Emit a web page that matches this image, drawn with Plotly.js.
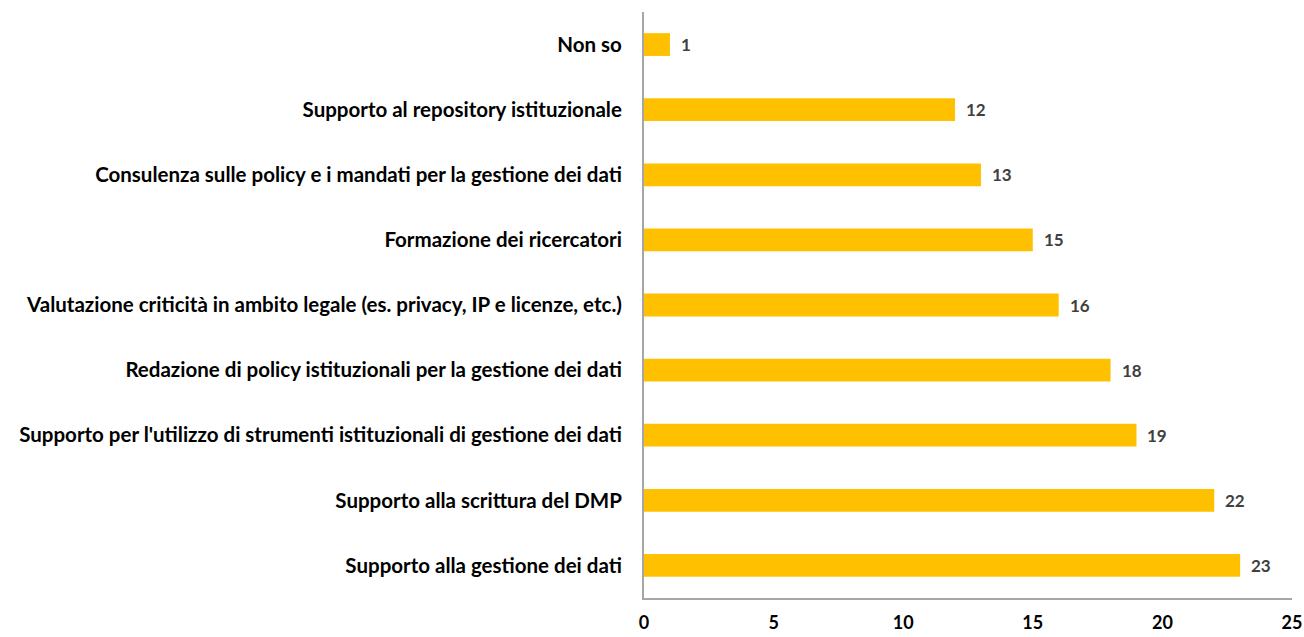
<!DOCTYPE html>
<html><head><meta charset="utf-8">
<script src="https://cdn.plot.ly/plotly-3.0.1.min.js"></script>
<style>html,body{margin:0;padding:0;background:#fff}#chart{width:1304px;height:637px}</style>
</head><body><div id="chart"></div>
<script>
const categories = [
  "Non so",
  "Supporto al repository istituzionale",
  "Consulenza sulle policy e i mandati per la gestione dei dati",
  "Formazione dei ricercatori",
  "Valutazione criticità in ambito legale (es. privacy, IP e licenze, etc.)",
  "Redazione di policy istituzionali per la gestione dei dati",
  "Supporto per l'utilizzo di strumenti istituzionali di gestione dei dati",
  "Supporto alla scrittura del DMP",
  "Supporto alla gestione dei dati"
];
const values = [1, 12, 13, 15, 16, 18, 19, 22, 23];
const xTicks = [0, 5, 10, 15, 20, 25];

const FONT = "Lato, 'Open Sans', sans-serif";
const trace = {
  type: 'bar', orientation: 'h',
  x: values, y: categories,
  marker: {color: '#FFC000'},
  hoverinfo: 'none'
};
const annotations = values.map((v, i) => ({
  x: v, y: categories[i], xref: 'x', yref: 'y',
  text: '<b>' + v + '</b>', showarrow: false,
  xanchor: 'left', xshift: 9,
  font: {family: FONT, size: 17, color: '#404040'}
}));
const layout = {
  width: 1304, height: 637,
  margin: {l: 644, r: 12, t: 12, b: 39},
  paper_bgcolor: '#fff', plot_bgcolor: '#fff',
  bargap: 0.65,
  showlegend: false,
  font: {family: FONT, color: '#000'},
  xaxis: {
    range: [0, 25], tickvals: xTicks, ticktext: xTicks.map(t => '<b>' + t + '</b>'),
    showgrid: false, zeroline: false, showline: true, linecolor: '#A6A6A6', linewidth: 2,
    ticks: '', ticklabelstandoff: 7, ticklabeloverflow: 'allow',
    tickfont: {family: FONT, size: 18, color: '#000'}
  },
  yaxis: {
    autorange: 'reversed', showgrid: false, zeroline: false,
    showline: true, linecolor: '#A6A6A6', linewidth: 2,
    ticks: '', ticklabelstandoff: 16,
    tickvals: categories, ticktext: categories.map(c => '<b>' + c + '</b>'),
    tickfont: {family: FONT, size: 20.5, color: '#000'}
  },
  annotations: annotations
};
Plotly.newPlot('chart', [trace], layout, {displayModeBar: false, staticPlot: true});
</script>
</body></html>
